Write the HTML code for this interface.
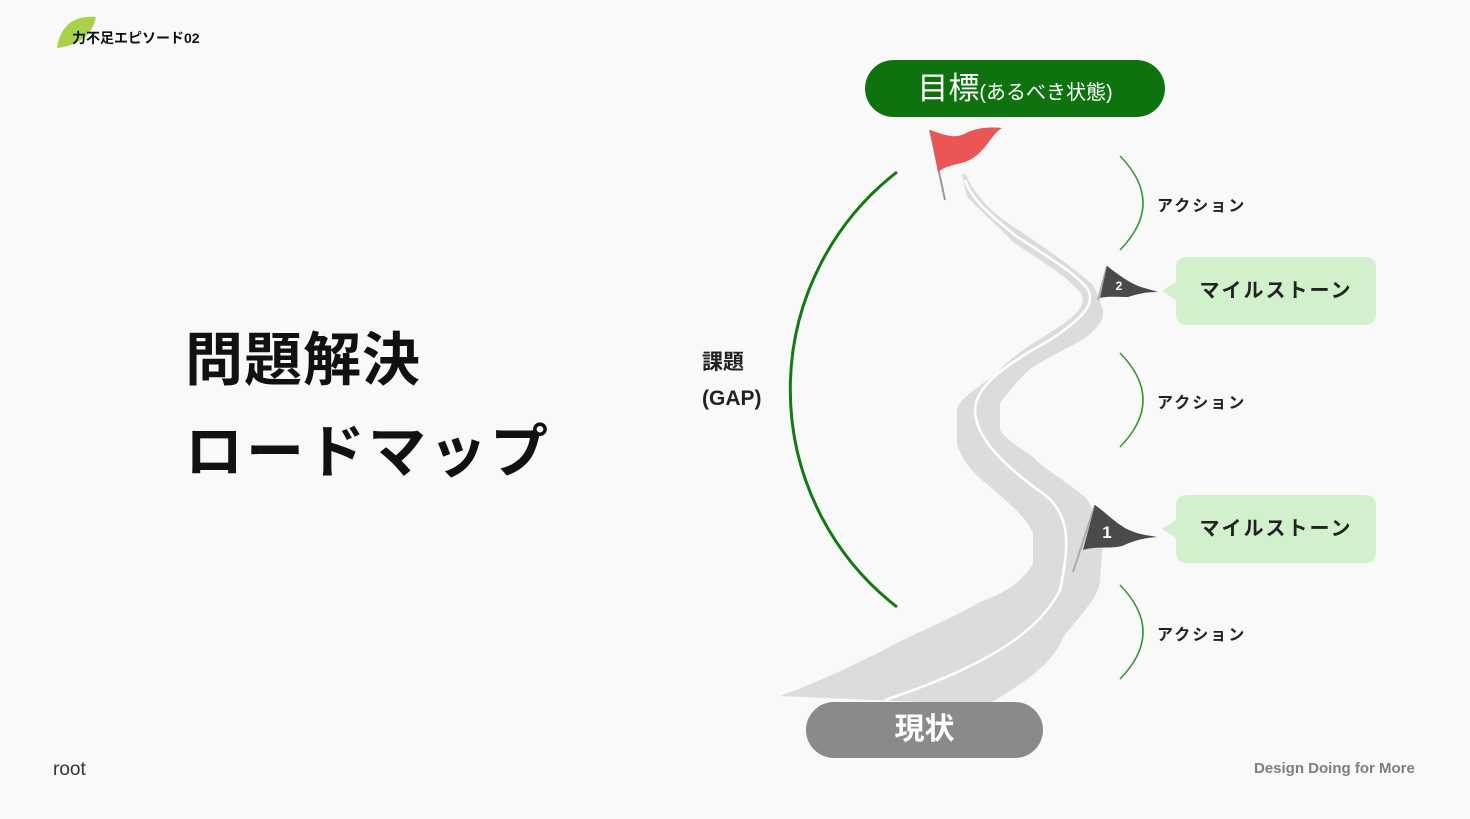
<!DOCTYPE html>
<html><head><meta charset="utf-8"><style>
html,body{margin:0;padding:0}
body{width:1470px;height:819px;background:#f9f9f9;position:relative;overflow:hidden;font-family:"Liberation Sans","Noto Sans CJK JP",sans-serif;color:#111}
.abs{position:absolute;white-space:nowrap}
</style></head><body>
<svg class="abs" style="left:0;top:0" width="1470" height="819">
  <path d="M57,48 C60,25 75,15 96,17 C92,35 80,45 57,48 Z" fill="#a9d24a"/>
  <path d="M962,174 L967,197 C985,215 1000,228 1013,242 C1040,260 1065,275 1080,292 C1086,300 1083,310 1063,324 C1040,340 1015,352 997,373 C975,390 957,400 957,411 L957,445 C965,465 975,475 987,484 C1005,500 1025,515 1033,533 L1033,564 C1020,585 1000,595 980,602 C950,620 910,635 880,652 C840,672 810,685 780,696 L987,705 C1030,680 1055,660 1063,637 C1085,610 1100,595 1100,579 L1103,541 C1098,520 1092,508 1087,499 C1065,480 1045,470 1033,457 C1015,445 1005,438 1000,430 L1000,403 C1010,390 1020,378 1030,369 C1060,350 1080,343 1090,334 C1100,325 1104,318 1103,311 C1100,300 1097,292 1093,285 C1070,265 1045,248 1020,231 C1000,218 988,208 980,197 C972,188 968,180 966,174 Z" fill="#dcdcdc"/>
  <path d="M965,180 C972,200 990,215 1016,236 C1050,258 1078,275 1088,290 C1096,305 1080,320 1050,340 C1010,362 975,385 975,410 C975,440 1010,470 1045,495 C1070,515 1070,545 1060,590 C1040,630 990,665 885,700" fill="none" stroke="#fff" stroke-width="2.5"/>
  <line x1="930" y1="130" x2="945" y2="200" stroke="#999" stroke-width="2"/>
  <path d="M930,130 C945,135 955,140 968,132 C980,127 992,127 1002,128 C990,135 985,155 965,162 C955,165 945,166 938,172 Z" fill="#ea5555"/>
  <path d="M897,172 A275,275 0 0 0 897,607" fill="none" stroke="#137a13" stroke-width="3"/>
  <path d="M1120,156 Q1166,203 1120,250" fill="none" stroke="#3b973b" stroke-width="1.6"/>
  <path d="M1120,353 Q1166,400 1120,447" fill="none" stroke="#3b973b" stroke-width="1.6"/>
  <path d="M1120,585 Q1166,632 1120,679" fill="none" stroke="#3b973b" stroke-width="1.6"/>
  <line x1="1107" y1="266" x2="1098" y2="300" stroke="#aaa" stroke-width="2"/>
  <path d="M1107,266 C1115,272 1120,276 1130,282 C1140,288 1150,289 1158,292 C1145,292 1138,294 1128,297 C1118,297 1108,296 1100,298 Z" fill="#4a4a4a"/>
  <text x="1119" y="290" font-size="12" font-weight="bold" fill="#fff" text-anchor="middle" font-family="Liberation Sans">2</text>
  <line x1="1095" y1="505" x2="1073" y2="572" stroke="#aaa" stroke-width="2"/>
  <path d="M1095,505 C1105,512 1112,520 1125,528 C1138,535 1148,535 1157,537 C1145,538 1135,540 1122,546 C1110,549 1095,546 1083,550 Z" fill="#4a4a4a"/>
  <text x="1107" y="538" font-size="17" font-weight="bold" fill="#fff" text-anchor="middle" font-family="Liberation Sans">1</text>
  <path d="M1176,282 L1162,291 L1176,300 Z" fill="#d3f0cc"/>
  <path d="M1176,520 L1162,529 L1176,538 Z" fill="#d3f0cc"/>
</svg>
<div class="abs" style="left:72px;top:28px;font-size:14px;font-weight:bold">力不足エピソード02</div>
<div class="abs" style="left:185px;top:326px;font-size:58px;font-weight:bold;line-height:70px;letter-spacing:1px">問題解決</div>
<div class="abs" style="left:185px;top:418px;font-size:58px;font-weight:bold;line-height:70px;letter-spacing:3px">ロードマップ</div>
<div class="abs" style="left:702px;top:345px;font-size:21px;font-weight:bold;line-height:36px;color:#222">課題<br>(GAP)</div>
<div class="abs" style="left:865px;top:60px;width:300px;height:57px;border-radius:29px;background:#0e720e;color:#fff;text-align:center;line-height:57px"><span style="font-size:31px">目標</span><span style="font-size:20px">(あるべき状態)</span></div>
<div class="abs" style="left:1157px;top:192px;font-size:16px;font-weight:bold;letter-spacing:2px;color:#222">アクション</div>
<div class="abs" style="left:1157px;top:389px;font-size:16px;font-weight:bold;letter-spacing:2px;color:#222">アクション</div>
<div class="abs" style="left:1157px;top:621px;font-size:16px;font-weight:bold;letter-spacing:2px;color:#222">アクション</div>
<div class="abs" style="left:1176px;top:257px;width:200px;height:68px;border-radius:10px;background:#d3f0cc;text-align:center;line-height:68px;font-size:20px;font-weight:bold;letter-spacing:2px;color:#222">マイルストーン</div>
<div class="abs" style="left:1176px;top:495px;width:200px;height:68px;border-radius:10px;background:#d3f0cc;text-align:center;line-height:68px;font-size:20px;font-weight:bold;letter-spacing:2px;color:#222">マイルストーン</div>
<div class="abs" style="left:806px;top:702px;width:237px;height:56px;border-radius:28px;background:#8a8a8a;color:#fff;text-align:center;line-height:56px;font-size:30px;font-weight:bold">現状</div>
<div class="abs" style="left:53px;top:759px;font-size:19px;color:#333">root</div>
<div class="abs" style="left:1254px;top:760px;font-size:15px;color:#7a7f7f;font-weight:bold">Design Doing for More</div>
</body></html>
